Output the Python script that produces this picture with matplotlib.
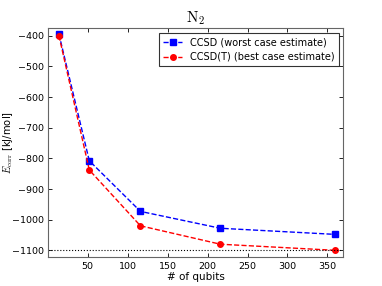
import matplotlib
matplotlib.use("Agg")
import matplotlib.pyplot as plt

qubits = [14, 52, 116, 216, 360]
ccsd = [-395, -808, -973, -1028, -1048]
ccsd_t = [-400, -838, -1020, -1080, -1100]
exact = -1100

plt.rcParams['font.size'] = 6.8
plt.rcParams['mathtext.fontset'] = 'cm'

fig = plt.figure(figsize=(3.82, 2.86), dpi=100)
ax = fig.add_axes([0.125, 0.1, 0.774, 0.801])

ax.plot(qubits, ccsd, 'b--s', markersize=4, lw=1, label="CCSD (worst case estimate)")
ax.plot(qubits, ccsd_t, 'r--o', markersize=4, lw=1, label="CCSD(T) (best case estimate)")
ax.axhline(exact, color='k', ls=':', lw=0.8)

ax.set_xlim(0, 370)
ax.set_ylim(-1123, -376)
ax.set_xticks([50, 100, 150, 200, 250, 300, 350])
ax.set_yticks([-1100, -1000, -900, -800, -700, -600, -500, -400])
ax.tick_params(direction='in', top=True, right=True, length=3, width=0.6, pad=3)
for s in ax.spines.values():
    s.set_color('0.4')
    s.set_linewidth(0.8)

ax.set_xlabel("# of qubits", fontsize=7.5, labelpad=1)
ax.set_ylabel(r"$E_{\rm corr}$ [kJ/mol]", fontsize=7.2)
ax.yaxis.set_label_coords(-0.112, 0.5)
ax.set_title(r"$\mathrm{N_2}$", fontsize=11, pad=4)

leg = ax.legend(loc='upper right', fancybox=False, edgecolor='k', fontsize=7,
                handlelength=2, borderaxespad=0.5)
leg.get_frame().set_linewidth(0.8)

fig.savefig("out.png", dpi=100)
